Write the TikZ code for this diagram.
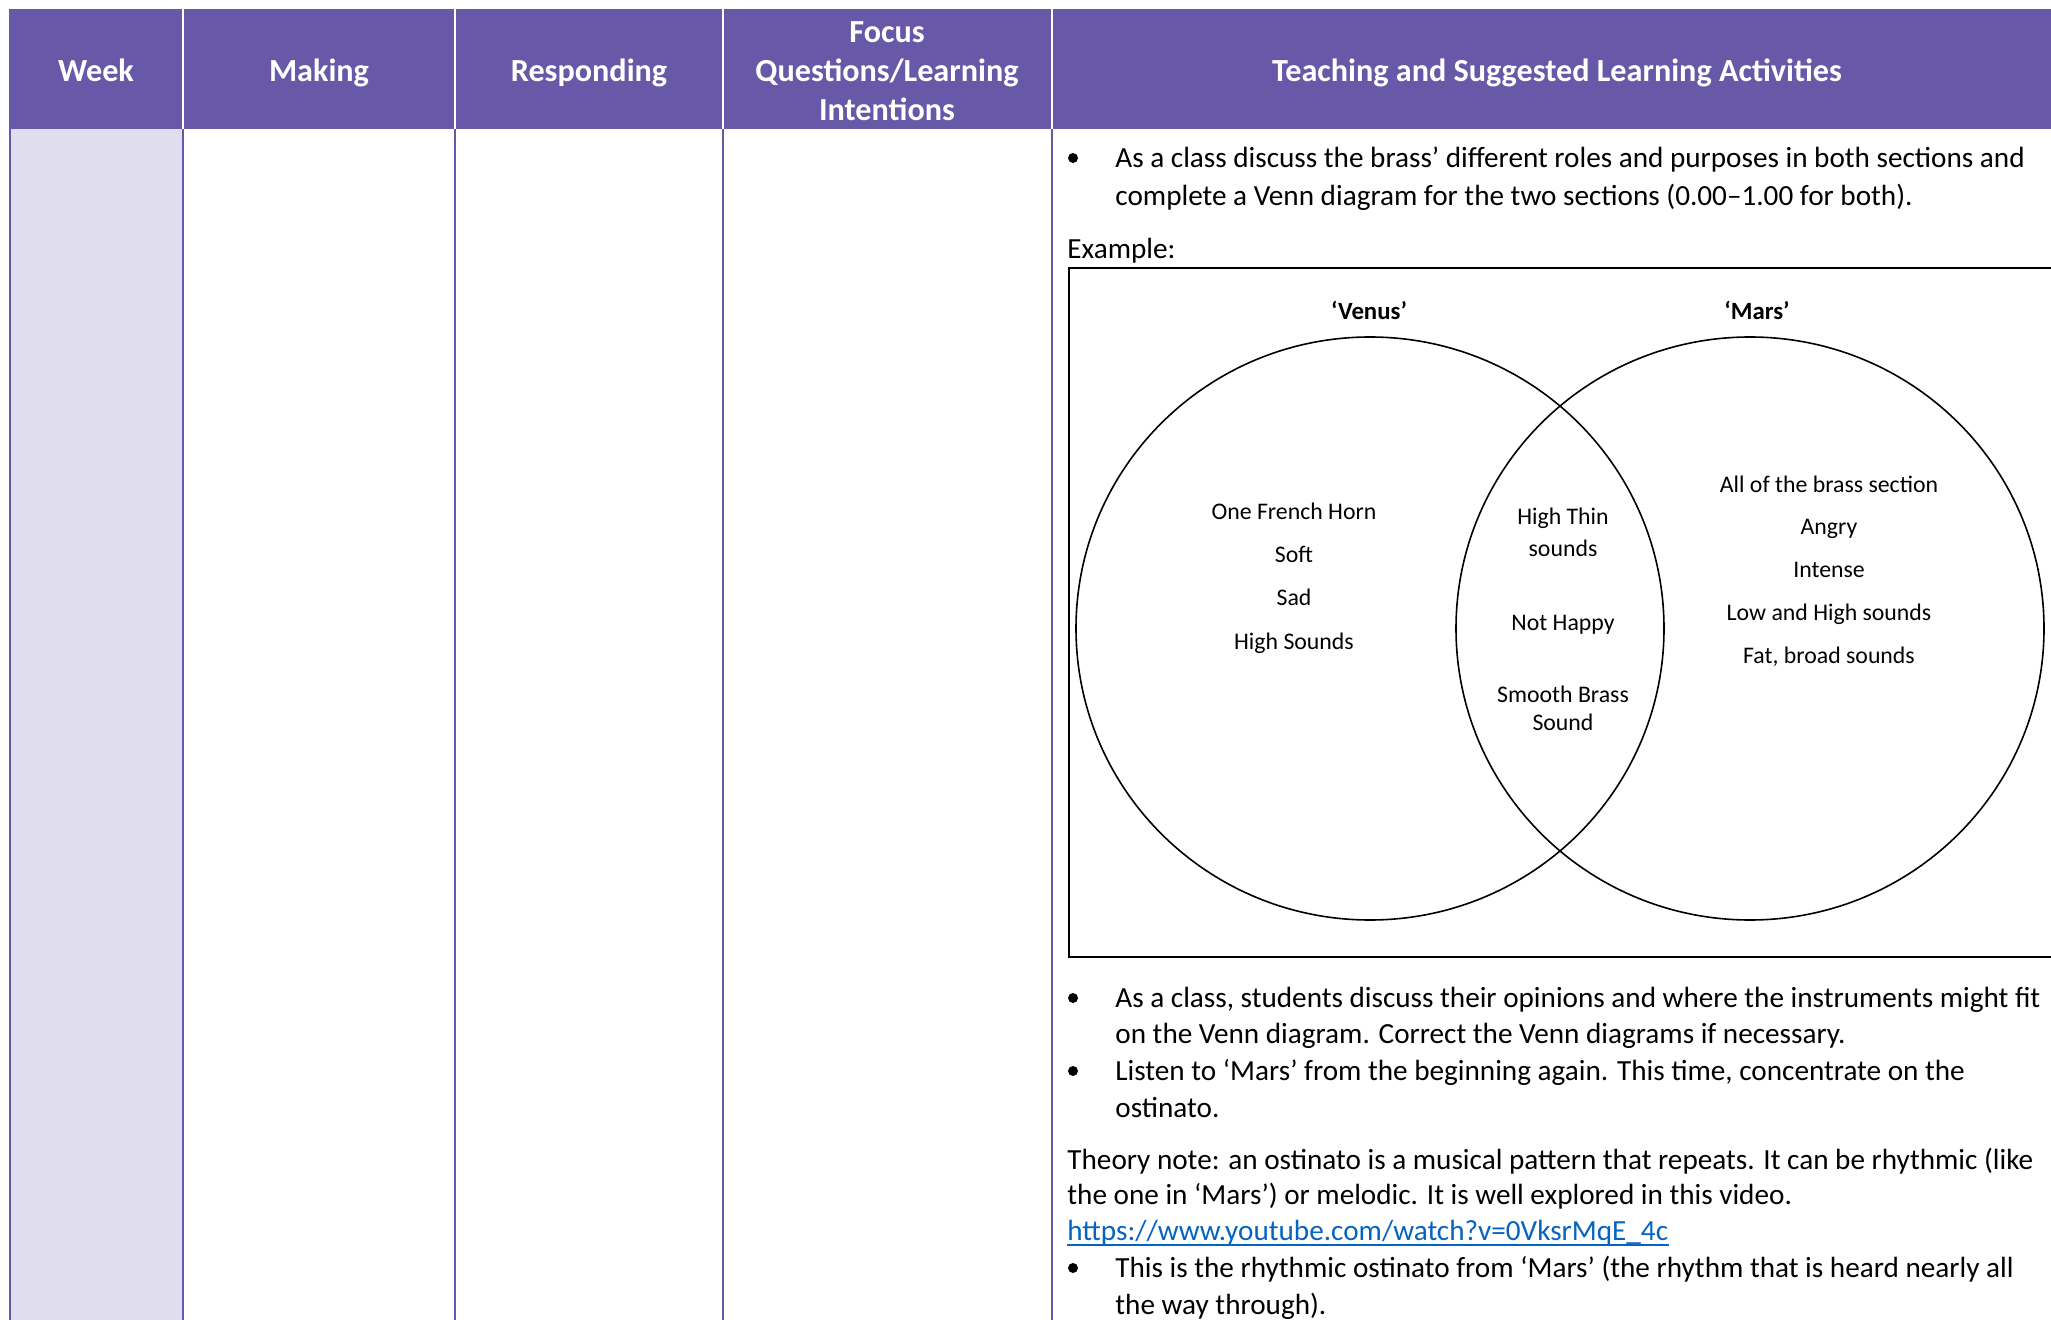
\documentclass[tikz,border=0pt]{standalone}
\usepackage{fontspec}
\setmainfont{Carlito}
\definecolor{hdrpurple}{RGB}{103,89,168}
\definecolor{weekfill}{RGB}{224,222,238}
\definecolor{linkblue}{RGB}{5,99,193}
\begin{document}
\begin{tikzpicture}[x=0.5pt,y=-0.5pt,
  hdr/.style={font=\bfseries\fontsize{16.1}{19}\selectfont, text=white, anchor=base, inner sep=0pt},
  body/.style={font=\fontsize{14.6}{17}\selectfont, anchor=base west, inner sep=0pt},
  venn/.style={font=\fontsize{11.9}{14}\selectfont, anchor=base, inner sep=0pt},
  vennhead/.style={font=\bfseries\fontsize{12.4}{14}\selectfont, anchor=base, inner sep=0pt},
  bodyline/.style={draw=hdrpurple, line width=1pt},
  hdrline/.style={draw=white, line width=1pt},
  vline/.style={draw=black, line width=0.8pt},
  bulletdot/.style={fill=black}]
\useasboundingbox (0,0) rectangle (2051,1320);
\clip (0,0) rectangle (2051,1320);
% header band
\fill[hdrpurple] (9,9) rectangle (2060,129);
\foreach \xx in {183,455,723,1052}{\draw[hdrline] (\xx,9) -- (\xx,129);}
% week column fill
\fill[weekfill] (9,129) rectangle (183,1330);
\foreach \xx in {9.5,183,455,723,1052}{\draw[bodyline] (\xx,129) -- (\xx,1330);}
% header texts
\node[hdr] (hweek) at (96,82) {Week};
\node[hdr] (hmaking) at (319,82) {Making};
\node[hdr] (hresp) at (589,82) {Responding};
\node[hdr] (hfocus1) at (887,43) {Focus};
\node[hdr] (hfocus2) at (887,82) {Questions/Learning};
\node[hdr] (hfocus3) at (887,121) {Intentions};
\node[hdr] (hteach) at (1557,82) {Teaching and Suggested Learning Activities};
% first bullet
\fill[bulletdot] (1073,158) circle[radius=5];
\node[body] (b1a) at (1115,167.5) {As a class discuss the brass’ different roles and purposes in both sections and};
\node[body] (b1b) at (1115,205.5) {complete a Venn diagram for the two sections (0.00–1.00 for both).};
\node[body] (ex) at (1067,259) {Example:};
% venn box
\draw[draw=black, line width=1.2pt] (2070,268) -- (1069,268) -- (1069,957) -- (2070,957);
\draw[vline] (1370,628.5) ellipse [x radius=294, y radius=291.5];
\draw[vline] (1750,628.5) ellipse [x radius=294, y radius=291.5];
\node[vennhead] (venus) at (1369,319.5) {‘Venus’};
\node[vennhead] (mars) at (1757,319.5) {‘Mars’};
\node[venn] (l1) at (1294,519.5) {One French Horn};
\node[venn] (l2) at (1294,562.5) {Soft};
\node[venn] (l3) at (1294,605.5) {Sad};
\node[venn] (l4) at (1294,649.5) {High Sounds};
\node[venn] (m1) at (1563,524.5) {High Thin};
\node[venn] (m2) at (1563,556.5) {sounds};
\node[venn] (m3) at (1563,630.5) {Not Happy};
\node[venn] (m4) at (1563,702.5) {Smooth Brass};
\node[venn] (m5) at (1563,730.5) {Sound};
\node[venn] (r1) at (1829,492.5) {All of the brass section};
\node[venn] (r2) at (1829,534.5) {Angry};
\node[venn] (r3) at (1829,577.5) {Intense};
\node[venn] (r4) at (1829,620.5) {Low and High sounds};
\node[venn] (r5) at (1829,663.5) {Fat, broad sounds};
% bullets after box
\fill[bulletdot] (1073,998) circle[radius=5];
\node[body] (b2a) at (1115,1007.5) {As a class, students discuss their opinions and where the instruments might fit};
\node[body] (b2b) at (1115,1043.5) {on the Venn diagram. Correct the Venn diagrams if necessary.};
\fill[bulletdot] (1073,1071) circle[radius=5];
\node[body] (b3a) at (1115,1080.5) {Listen to ‘Mars’ from the beginning again. This time, concentrate on the};
\node[body] (b3b) at (1115,1117.5) {ostinato.};
\node[body] (t1) at (1067,1169.5) {Theory note: an ostinato is a musical pattern that repeats. It can be rhythmic (like};
\node[body] (t2) at (1067,1204.5) {the one in ‘Mars’) or melodic. It is well explored in this video.};
\node[body, text=linkblue] (link) at (1067,1240.5) {https://www.youtube.com/watch?v=0VksrMqE\_4c};
\draw[linkblue, line width=0.7pt] ([yshift=-2.2pt]link.base west) -- ([yshift=-2.2pt]link.base east);
\fill[bulletdot] (1073,1268) circle[radius=5];
\node[body] (b4a) at (1115,1277.5) {This is the rhythmic ostinato from ‘Mars’ (the rhythm that is heard nearly all};
\node[body] (b4b) at (1115,1314.5) {the way through).};
\end{tikzpicture}
\end{document}
